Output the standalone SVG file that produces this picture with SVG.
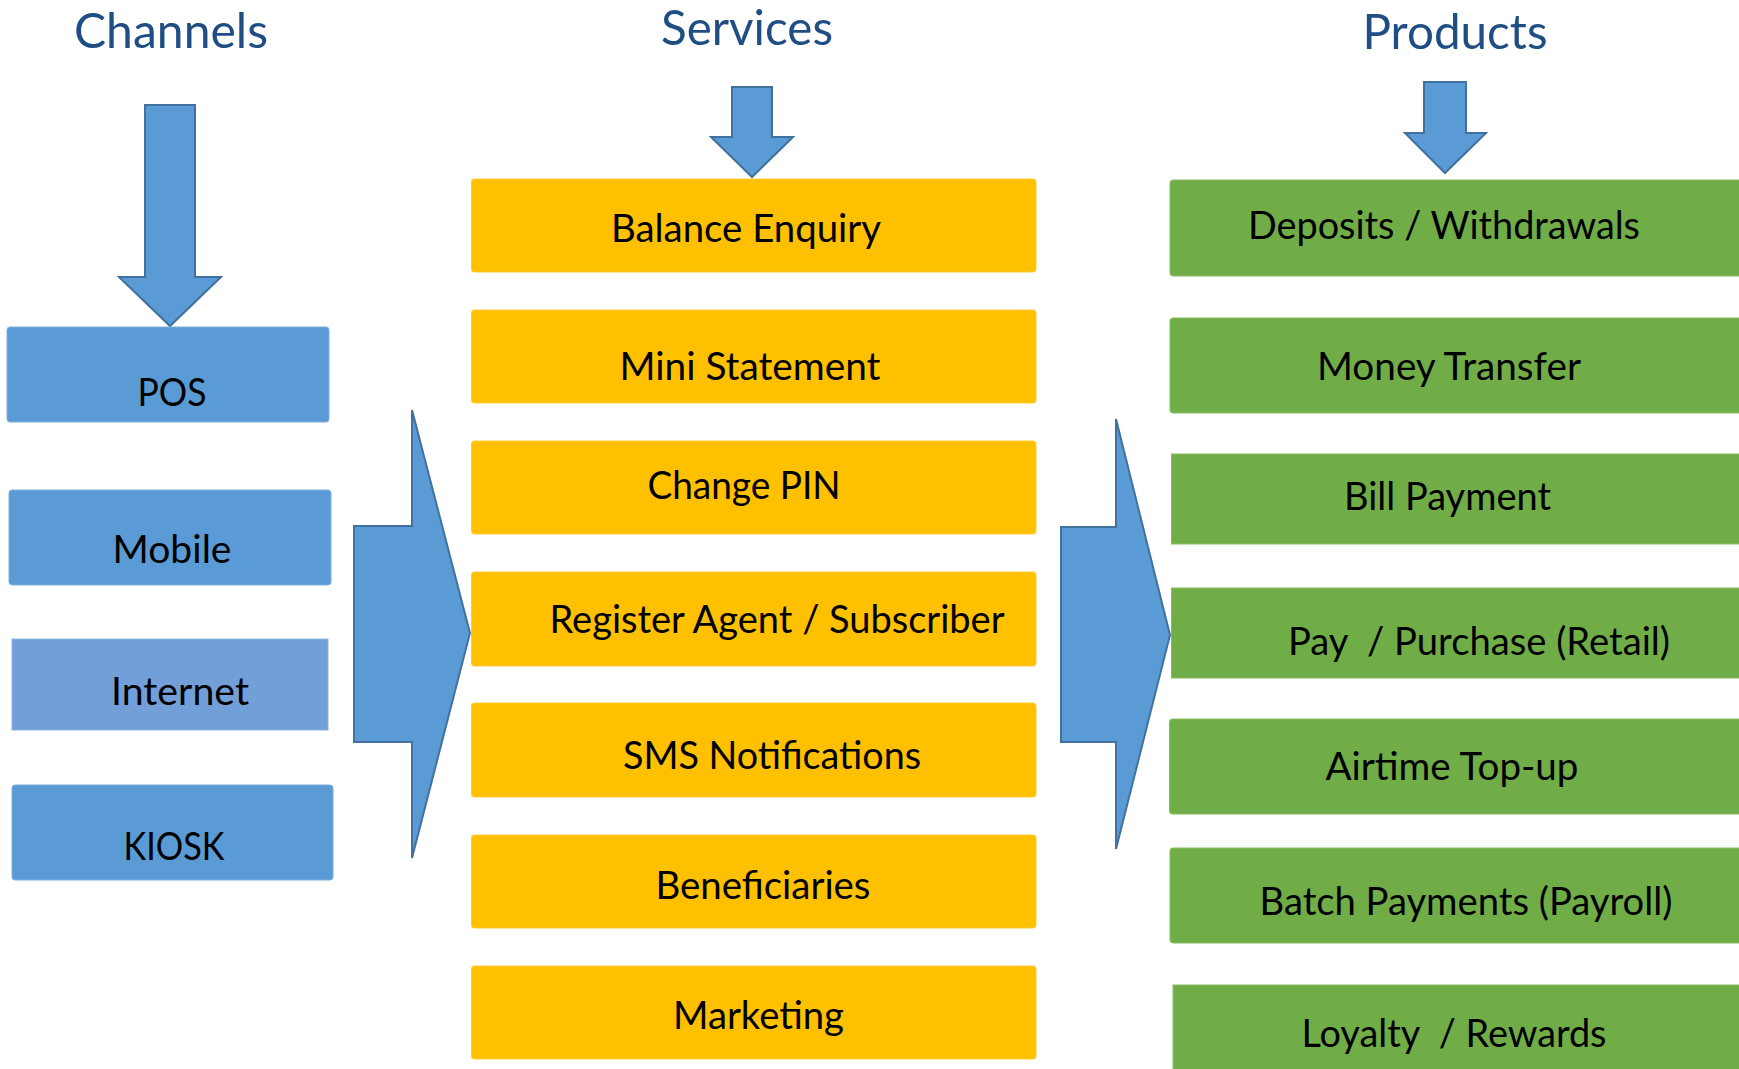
<svg xmlns="http://www.w3.org/2000/svg" width="1739" height="1069" viewBox="0 0 1739 1069">
  <style>
    .title { font-family: Lato, "Open Sans", "Liberation Sans", sans-serif; font-size: 49px; fill: #1f4e85; text-anchor: middle; }
    .label { font-family: Lato, "Open Sans", "Liberation Sans", sans-serif; font-size: 39px; fill: #000000; text-anchor: middle; white-space: pre; }
    .channel { fill: #5b9bd5; stroke: #7fb0e0; stroke-width: 1; }
    .channel-alt { fill: #729fd7; stroke: #8db3e2; stroke-width: 1; }
    .service { fill: #ffc000; stroke: #ffcc33; stroke-width: 1; }
    .product { fill: #70ad47; stroke: #86bd62; stroke-width: 1; }
    .arrow { fill: #5b9bd5; stroke: #41719c; stroke-width: 2; stroke-linejoin: miter; }
  </style>

  <!-- column headings -->
  <g id="headings">
    <text class="title" x="171" y="48" textLength="194" lengthAdjust="spacingAndGlyphs">Channels</text>
    <text class="title" x="747" y="45" textLength="172" lengthAdjust="spacingAndGlyphs">Services</text>
    <text class="title" x="1455" y="49" textLength="185" lengthAdjust="spacingAndGlyphs">Products</text>
  </g>

  <!-- block arrows -->
  <g id="connectors">
    <polygon class="arrow" points="145,105 195,105 195,277 221,277 170,326 119,277 145,277"/>
    <polygon class="arrow" points="732,87 772,87 772,137 793,137 752,177 711,137 732,137"/>
    <polygon class="arrow" points="1424,82 1466,82 1466,133 1486,133 1445,173 1405,133 1424,133"/>
    <polygon class="arrow" points="354,526 412,526 412,410 470,633 412,858 412,742 354,742"/>
    <polygon class="arrow" points="1061,527 1116,527 1116,419 1170,635 1116,849 1116,742 1061,742"/>
  </g>

  <!-- channels -->
  <g id="ch-pos">
    <rect class="channel" x="7" y="327" width="322" height="95" rx="3"/>
    <text class="label" x="172" y="406" textLength="69" lengthAdjust="spacingAndGlyphs">POS</text>
  </g>
  <g id="ch-mobile">
    <rect class="channel" x="9" y="490" width="322" height="95" rx="3"/>
    <text class="label" x="172" y="563" textLength="119" lengthAdjust="spacingAndGlyphs">Mobile</text>
  </g>
  <g id="ch-internet">
    <rect class="channel-alt" x="12" y="639" width="316" height="91"/>
    <text class="label" x="180" y="705" textLength="138" lengthAdjust="spacingAndGlyphs">Internet</text>
  </g>
  <g id="ch-kiosk">
    <rect class="channel" x="12" y="785" width="321" height="95" rx="3"/>
    <text class="label" x="174" y="860" textLength="101" lengthAdjust="spacingAndGlyphs">KIOSK</text>
  </g>

  <!-- services -->
  <g id="sv-balance">
    <rect class="service" x="471.5" y="179" width="564.5" height="93" rx="3"/>
    <text class="label" x="746" y="242" textLength="270" lengthAdjust="spacingAndGlyphs">Balance Enquiry</text>
  </g>
  <g id="sv-mini">
    <rect class="service" x="471.5" y="310" width="564.5" height="93" rx="3"/>
    <text class="label" x="750" y="380" textLength="261" lengthAdjust="spacingAndGlyphs">Mini Statement</text>
  </g>
  <g id="sv-pin">
    <rect class="service" x="471.5" y="441" width="564.5" height="93" rx="3"/>
    <text class="label" x="744" y="499" textLength="193" lengthAdjust="spacingAndGlyphs">Change PIN</text>
  </g>
  <g id="sv-register">
    <rect class="service" x="471.5" y="572" width="564.5" height="94" rx="3"/>
    <text class="label" x="777" y="633" textLength="455" lengthAdjust="spacingAndGlyphs">Register Agent / Subscriber</text>
  </g>
  <g id="sv-sms">
    <rect class="service" x="471.5" y="703" width="564.5" height="94" rx="3"/>
    <text class="label" x="772" y="769" textLength="298" lengthAdjust="spacingAndGlyphs">SMS Notifications</text>
  </g>
  <g id="sv-beneficiaries">
    <rect class="service" x="471.5" y="835" width="564.5" height="93" rx="3"/>
    <text class="label" x="763" y="899" textLength="215" lengthAdjust="spacingAndGlyphs">Beneficiaries</text>
  </g>
  <g id="sv-marketing">
    <rect class="service" x="471.5" y="966" width="564.5" height="93" rx="3"/>
    <text class="label" x="758.5" y="1029" textLength="171" lengthAdjust="spacingAndGlyphs">Marketing</text>
  </g>

  <!-- products (run off the right edge) -->
  <g id="pr-deposits">
    <rect class="product" x="1170" y="180" width="600" height="96" rx="3"/>
    <text class="label" x="1444" y="239" textLength="392" lengthAdjust="spacingAndGlyphs">Deposits / Withdrawals</text>
  </g>
  <g id="pr-transfer">
    <rect class="product" x="1170" y="318" width="600" height="95" rx="3"/>
    <text class="label" x="1449" y="380" textLength="264" lengthAdjust="spacingAndGlyphs">Money Transfer</text>
  </g>
  <g id="pr-bill">
    <rect class="product" x="1171.5" y="454" width="600" height="90"/>
    <text class="label" x="1447.5" y="510" textLength="207" lengthAdjust="spacingAndGlyphs">Bill Payment</text>
  </g>
  <g id="pr-pay">
    <rect class="product" x="1171.5" y="588" width="600" height="90"/>
    <text class="label" x="1479" y="655" textLength="382" lengthAdjust="spacingAndGlyphs">Pay  / Purchase (Retail)</text>
  </g>
  <g id="pr-airtime">
    <rect class="product" x="1169.5" y="719" width="600" height="95" rx="3"/>
    <text class="label" x="1452" y="780" textLength="253" lengthAdjust="spacingAndGlyphs">Airtime Top-up</text>
  </g>
  <g id="pr-batch">
    <rect class="product" x="1170" y="848" width="600" height="95" rx="3"/>
    <text class="label" x="1466" y="915" textLength="413" lengthAdjust="spacingAndGlyphs">Batch Payments (Payroll)</text>
  </g>
  <g id="pr-loyalty">
    <rect class="product" x="1173" y="985" width="600" height="100"/>
    <text class="label" x="1454" y="1047" textLength="305" lengthAdjust="spacingAndGlyphs">Loyalty  / Rewards</text>
  </g>
</svg>
